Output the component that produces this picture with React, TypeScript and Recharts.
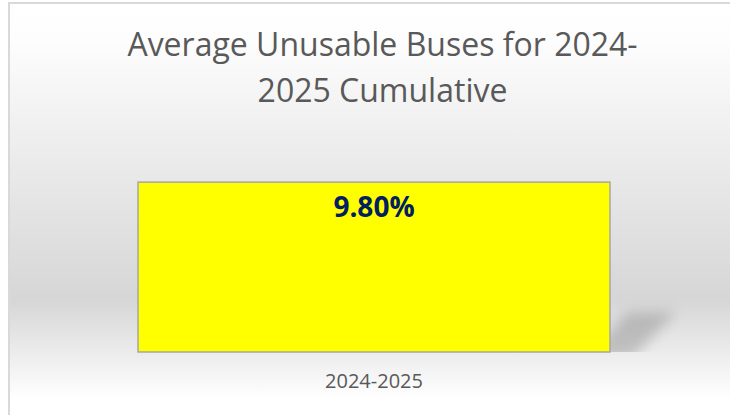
import React from 'react';
import { BarChart, Bar, XAxis, YAxis, LabelList } from 'recharts';

// values
const periods = ['2024-2025'];
const unusablePct = [9.8];
const titleLines = ['Average Unusable Buses for 2024-', '2025 Cumulative'];

const data = periods.map((p, i) => ({ period: p, value: unusablePct[i] }));

const FONT = '"Open Sans", "Noto Sans", sans-serif';

// yellow bar with the soft perspective shadow off its bottom-right corner
const ShadowBar = (props: any) => {
  const { x, y, width, height } = props;
  const r = x + width;
  const b = y + height;
  return (
    <g>
      <defs>
        <filter id="barShadowBlur" x="-50%" y="-50%" width="200%" height="200%">
          <feGaussianBlur stdDeviation="6.5" />
        </filter>
        <clipPath id="barShadowClip">
          <rect x={r - 40} y={b - 90} width={140} height={90} />
        </clipPath>
      </defs>
      <g clipPath="url(#barShadowClip)">
        <polygon
          points={`${r - 25},${b + 6} ${r + 22},${b + 6} ${r + 66},${b - 40} ${r + 18},${b - 40}`}
          fill="#8a8a8a"
          opacity={0.45}
          filter="url(#barShadowBlur)"
        />
      </g>
      <rect x={x} y={y} width={width} height={height} fill="#ffff00" stroke="#a6a6a6" strokeWidth={1.5} />
    </g>
  );
};

const ValueLabel = (props: any) => {
  const { x, y, width, value } = props;
  return (
    <text x={x + width / 2} y={y + 35} textAnchor="middle" fontFamily={FONT} fontWeight={700} fontSize={28} fill="#002060">
      {Number(value).toFixed(2)}%
    </text>
  );
};

const PeriodTick = (props: any) => {
  const { x, y, payload } = props;
  return (
    <text x={x} y={y + 28} textAnchor="middle" fontFamily={FONT} fontSize={20} fill="#595959">
      {payload.value}
    </text>
  );
};

export default function App() {
  return (
    <div
      style={{
        position: 'fixed',
        left: 8,
        top: 2,
        width: 720,
        height: 411,
        borderTop: '2px solid #d9d9d9',
        borderLeft: '2px solid #d9d9d9',
        background: 'linear-gradient(to bottom, #ffffff 0%, #fdfdfd 9%, #d6d6d6 72%, #ffffff 96%)',
        overflow: 'hidden',
      }}
    >
      <BarChart width={720} height={411} data={data} margin={{ top: 140, right: 12, bottom: 33, left: 20 }}>
        <YAxis hide domain={[0, 12]} />
        <XAxis dataKey="period" axisLine={false} tickLine={false} height={30} tick={<PeriodTick />} />
        <Bar dataKey="value" barSize={472} shape={<ShadowBar />} isAnimationActive={false}>
          <LabelList dataKey="value" content={<ValueLabel />} />
        </Bar>
      </BarChart>
      <svg width={720} height={120} style={{ position: 'absolute', left: 0, top: 0 }}>
        {titleLines.map((line, i) => (
          <text key={line} x={372.5} y={52 + i * 46} textAnchor="middle" fontFamily={FONT} fontSize={32} fill="#595959">
            {line}
          </text>
        ))}
      </svg>
    </div>
  );
}
